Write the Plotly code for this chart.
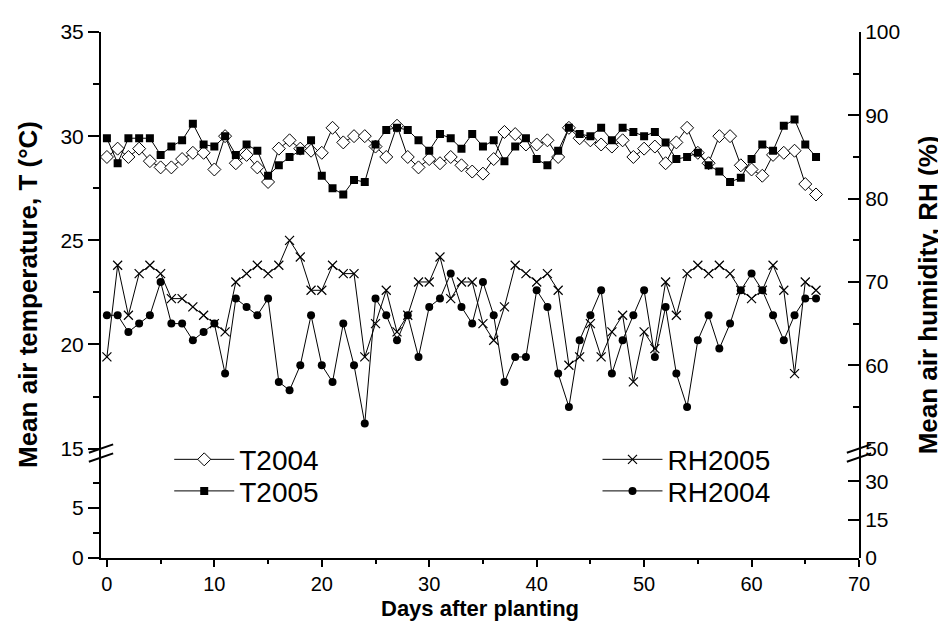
import plotly.graph_objects as go

days = list(range(67))

t2004 = [29.0, 29.4, 29.0, 29.4, 28.8, 28.5, 28.5, 28.9, 29.2, 29.2,
         28.4, 30.0, 28.7, 29.1, 28.5, 27.8, 29.4, 29.8, 29.4, 29.3,
         29.2, 30.4, 29.7, 30.0, 30.0, 29.5, 29.0, 30.5, 29.0, 28.5,
         28.9, 28.7, 29.0, 28.6, 28.3, 28.2, 28.9, 30.2, 30.1, 29.6,
         29.6, 29.8, 29.0, 30.4, 29.9, 29.8, 29.6, 29.5, 29.8, 29.0,
         29.4, 29.5, 28.7, 29.7, 30.4, 29.2, 28.7, 30.0, 30.0, 28.6,
         28.4, 28.1, 29.1, 29.2, 29.3, 27.7, 27.2]

t2005 = [29.9, 28.7, 29.9, 29.9, 29.9, 29.1, 29.5, 29.8, 30.6, 29.6,
         29.5, 30.0, 29.1, 29.6, 29.3, 28.1, 28.6, 29.0, 29.3, 29.8,
         28.1, 27.5, 27.2, 27.9, 27.8, 29.6, 30.3, 30.4, 30.3, 29.8,
         29.3, 30.1, 29.9, 29.4, 30.1, 29.5, 29.8, 28.8, 29.5, 29.9,
         28.9, 28.6, 29.3, 30.4, 30.1, 30.0, 30.4, 29.8, 30.4, 30.2,
         30.0, 30.2, 29.7, 28.9, 29.0, 29.2, 28.6, 28.3, 27.8, 28.0,
         28.9, 29.6, 29.3, 30.5, 30.8, 29.6, 29.0]

rh2005 = [61, 72, 66, 71, 72, 71, 68, 68, 67, 66,
          65, 64, 70, 71, 72, 71, 72, 75, 73, 69,
          69, 72, 71, 71, 61, 65, 69, 64, 66, 70,
          70, 73, 68, 70, 70, 65, 63, 67, 72, 71,
          70, 71, 69, 60, 61, 65, 61, 64, 66, 58,
          64, 62, 70, 66, 71, 72, 71, 72, 71, 69,
          68, 69, 72, 69, 59, 70, 69]

rh2004 = [66, 66, 64, 65, 66, 70, 65, 65, 63, 64,
          65, 59, 68, 67, 66, 68, 58, 57, 60, 66,
          60, 58, 65, 60, 53, 68, 66, 63, 66, 61,
          67, 68, 71, 67, 65, 70, 66, 58, 61, 61,
          69, 67, 59, 55, 63, 66, 69, 59, 63, 66,
          69, 61, 67, 59, 55, 63, 66, 62, 65, 69,
          71, 69, 66, 63, 66, 68, 68]

FONT = "Liberation Sans, Arial, sans-serif"
split = 0.208  # lower panel / upper panel boundary (paper)

fig = go.Figure()

fig.add_trace(go.Scatter(
    x=days, y=t2004, name="T2004", mode="lines+markers",
    line=dict(color="black", width=1),
    marker=dict(symbol="diamond", size=10, color="white",
                line=dict(color="black", width=1)),
    legend="legend"))
fig.add_trace(go.Scatter(
    x=days, y=t2005, name="T2005", mode="lines+markers",
    line=dict(color="black", width=1),
    marker=dict(symbol="square", size=8, color="black"),
    legend="legend3"))
fig.add_trace(go.Scatter(
    x=days, y=rh2005, name="RH2005", mode="lines+markers", yaxis="y2",
    line=dict(color="black", width=1),
    marker=dict(symbol="x-thin", size=9, line=dict(color="black", width=1.2)),
    legend="legend2"))
fig.add_trace(go.Scatter(
    x=days, y=rh2004, name="RH2004", mode="lines+markers", yaxis="y2",
    line=dict(color="black", width=1),
    marker=dict(symbol="circle", size=8, color="black"),
    legend="legend4"))

# empty traces so the lower (broken) panel axes get drawn
for ax in ("y3", "y4"):
    fig.add_trace(go.Scatter(x=[None], y=[None], yaxis=ax, mode="lines",
                             showlegend=False, hoverinfo="skip"))

axis_common = dict(showline=True, linecolor="black", linewidth=2,
                   showgrid=False, zeroline=False, tickwidth=2,
                   tickcolor="black", tickfont=dict(family=FONT, size=21, color="black"))

legend_style = dict(xanchor="left", yanchor="middle", bgcolor="rgba(0,0,0,0)",
                    font=dict(family=FONT, size=28, color="black"), itemwidth=60)

# page body has an 8px margin, so the figure is sized to fit the visible window
fig.update_layout(
    width=938, height=618,
    margin=dict(l=93, r=87, t=16, b=68),
    plot_bgcolor="white", paper_bgcolor="white",
    font=dict(family=FONT, color="black"),
    xaxis=dict(range=[-0.55, 70], dtick=10, ticks="outside", ticklen=7,
               minor=dict(dtick=5, ticks="outside", ticklen=4, tickwidth=2, tickcolor="black"),
               anchor="y3", **{**axis_common, "tickfont": dict(family=FONT, size=20, color="black")}),
    yaxis=dict(domain=[split, 1], range=[15, 35], dtick=5, ticks="outside", ticklen=11,
               minor=dict(dtick=2.5, ticks="outside", ticklen=6, tickwidth=2, tickcolor="black"),
               anchor="x", **axis_common),
    yaxis3=dict(domain=[0, split], range=[0, 10.9], tickvals=[0, 5], ticks="outside", ticklen=11,
                minor=dict(tickvals=[2.5, 7.5], ticks="outside", ticklen=6, tickwidth=2, tickcolor="black"),
                anchor="x", **axis_common),
    yaxis2=dict(domain=[split, 1], range=[50, 100], dtick=10, ticks="inside", ticklen=11,
                minor=dict(dtick=5, ticks="inside", ticklen=6, tickwidth=2, tickcolor="black"),
                overlaying="y", side="right", anchor="x", **axis_common),
    yaxis4=dict(domain=[0, split], range=[0, 42.8], tickvals=[0, 15, 30], ticks="inside", ticklen=11,
                side="right", anchor="x", **axis_common),
    legend=dict(x=0.09, y=0.187, **legend_style),
    legend3=dict(x=0.09, y=0.127, **legend_style),
    legend2=dict(x=0.655, y=0.187, **legend_style),
    legend4=dict(x=0.655, y=0.127, **legend_style),
)

# axis titles
fig.add_annotation(text="<b>Mean air temperature, T (°C)</b>", xref="paper", yref="paper",
                   x=-0.0963, y=0.5, xanchor="center", yanchor="middle", textangle=-90,
                   showarrow=False, font=dict(family=FONT, size=26, color="black"))
fig.add_annotation(text="<b>Mean air humidity, RH (%)</b>", xref="paper", yref="paper",
                   x=1.0915, y=0.5, xanchor="center", yanchor="middle", textangle=-90,
                   showarrow=False, font=dict(family=FONT, size=26, color="black"))
fig.add_annotation(text="<b>Days after planting</b>", xref="paper", yref="paper",
                   x=0.5, y=-0.1245, xanchor="center", yanchor="bottom", showarrow=False,
                   font=dict(family=FONT, size=22, color="black"))

# axis break marks
for x0 in (-0.016, 0.984):
    for dy in (0.0, 0.017):
        fig.add_shape(type="line", xref="paper", yref="paper",
                      x0=x0, y0=split - 0.008 - dy, x1=x0 + 0.032, y1=split + 0.008 - dy,
                      line=dict(color="black", width=2))

fig.write_html("out.html")
